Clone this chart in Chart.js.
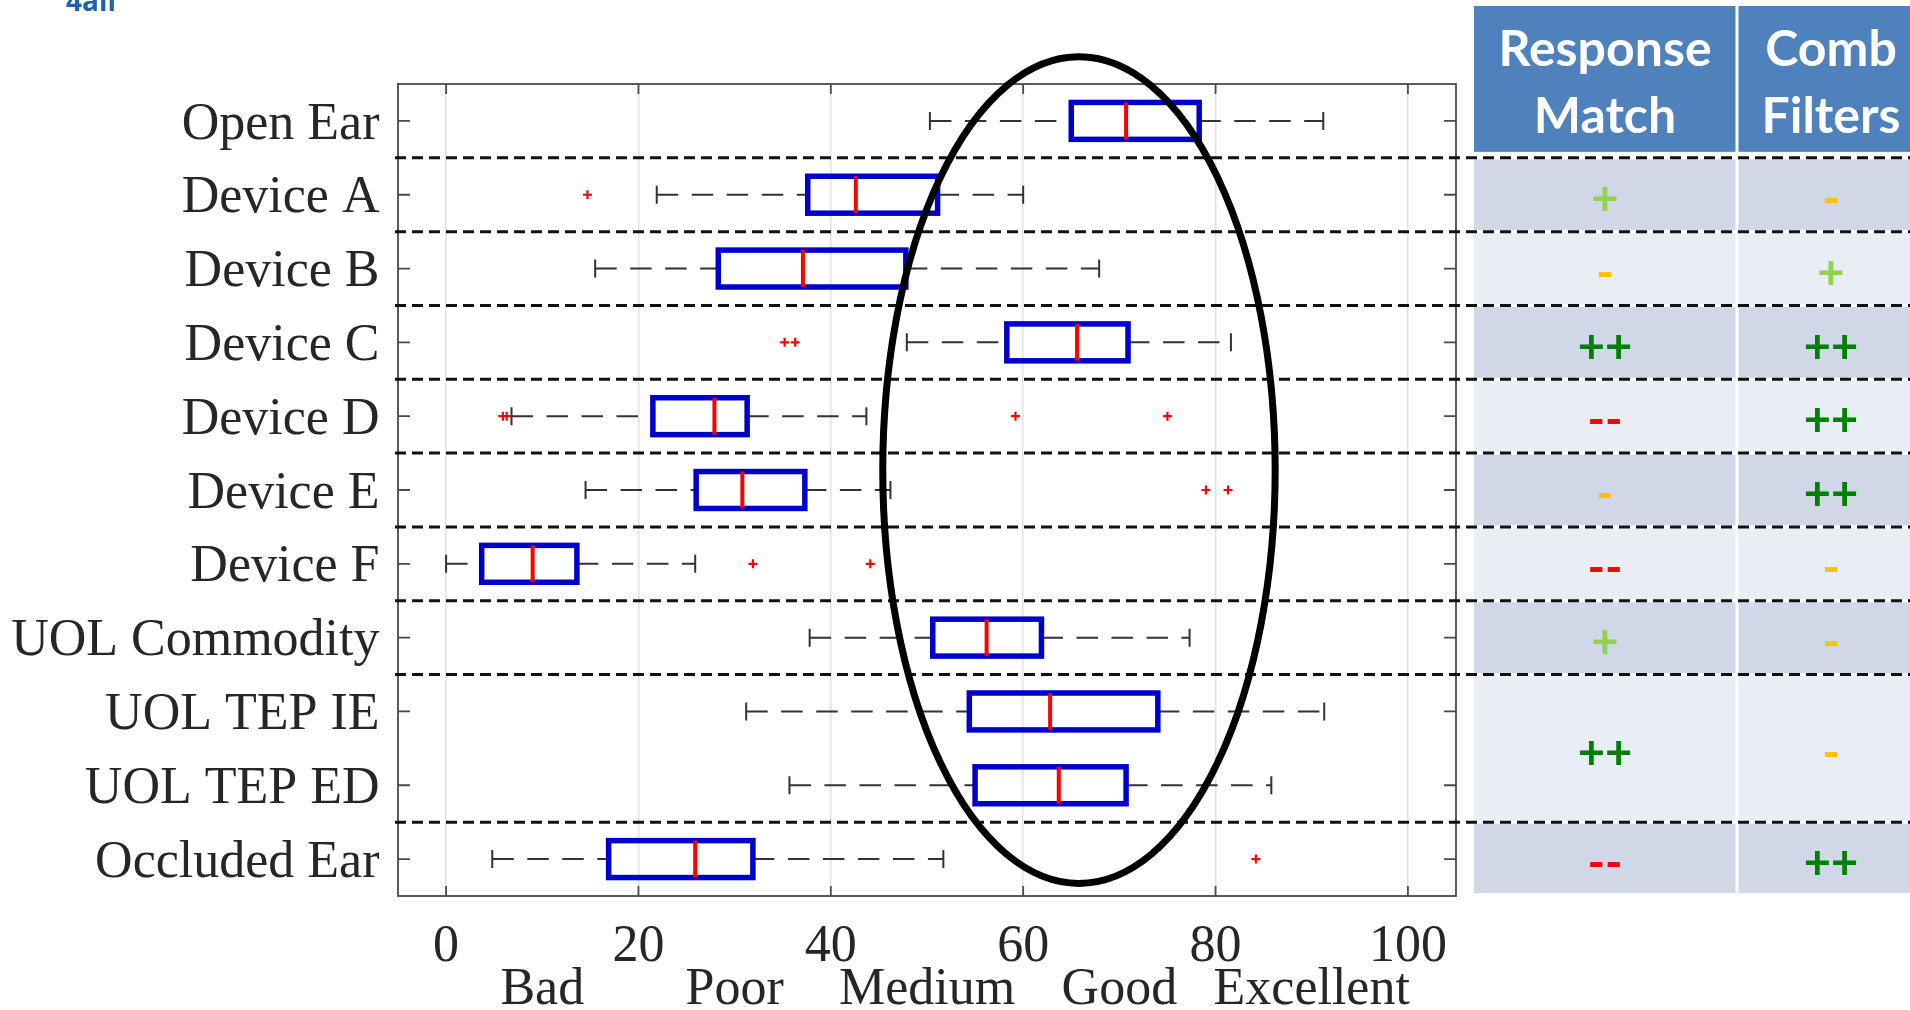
<!DOCTYPE html>
<html>
<head>
<meta charset="utf-8">
<title>Box plot ratings</title>
<script src="https://cdn.jsdelivr.net/npm/chart.js@4.4.1/dist/chart.umd.min.js"></script>
<style>
  html, body { margin: 0; padding: 0; background: #fff; }
  #wrap { position: relative; width: 1910px; height: 1010px; }
</style>
</head>
<body>
<div id="wrap"><canvas id="boxChart" width="1910" height="1010"></canvas></div>
<script>
// categories, top to bottom
const devices = ['Open Ear', 'Device A', 'Device B', 'Device C', 'Device D', 'Device E',
                 'Device F', 'UOL Commodity', 'UOL TEP IE', 'UOL TEP ED', 'Occluded Ear'];

// five number summaries
const whiskerLow  = [50.3, 21.9, 15.5, 47.9, 6.8, 14.5, 0.0, 37.8, 31.2, 35.7, 4.8];
const quart1      = [65.0, 37.6, 28.3, 58.3, 21.5, 26.0, 3.7, 50.6, 54.4, 55.0, 16.9];
const medians     = [70.7, 42.6, 37.1, 65.6, 27.9, 30.8, 9.0, 56.2, 62.8, 63.7, 25.9];
const quart3      = [78.3, 51.1, 47.8, 70.9, 31.3, 37.3, 13.6, 61.9, 74.0, 70.7, 31.9];
const whiskerHigh = [91.2, 60.0, 67.9, 81.6, 43.7, 46.2, 25.9, 77.3, 91.3, 85.8, 51.7];
const outliers = [[], [14.7], [], [35.2, 36.3], [5.9, 6.3, 59.2, 75.0], [79.0, 81.3],
                  [31.9, 44.1], [], [], [], [84.2]];

// x axis: numbers and the quality words under them
const xTicks = [0, 20, 40, 60, 80, 100];
const qualityAt = [10, 30, 50, 70, 90];
const qualityLabels = ['Bad', 'Poor', 'Medium', 'Good', 'Excellent'];

// table on the right (one entry per category, rows with the same group are merged)
const tableHeads = [['Response', 'Match'], ['Comb', 'Filters']];
const responseMatch = [null, '+', '-', '++', '--', '-', '--', '+', '++', '++', '--'];
const combFilters   = [null, '-', '+', '++', '++', '++', '-', '-', '-', '-', '++'];
const rowGroup = [0, 1, 2, 3, 4, 5, 6, 7, 8, 8, 9];

// the drawn ellipse, centre and radii in axis units (x value, category index)
const focusCenter = [65.8, 4.73];
const focusRadius = [20.4, 5.6];

const serif = "'Liberation Serif', 'Times New Roman', serif";
const symbolColor = { '+': '#92D050', '++': '#008000', '-': '#FFC000', '--': '#FF0000' };
const boxBlue = '#0000CC';

const boxExtras = {
  id: 'boxExtras',
  beforeDatasetsDraw(chart) {
    const { ctx, scales: { x, y } } = chart;
    ctx.save();
    ctx.strokeStyle = '#333';
    ctx.lineWidth = 2;
    devices.forEach((d, i) => {
      const py = y.getPixelForValue(i);
      ctx.setLineDash([21.5, 13.5]);
      ctx.beginPath();
      ctx.moveTo(x.getPixelForValue(whiskerLow[i]), py);
      ctx.lineTo(x.getPixelForValue(quart1[i]), py);
      ctx.moveTo(x.getPixelForValue(quart3[i]), py);
      ctx.lineTo(x.getPixelForValue(whiskerHigh[i]), py);
      ctx.stroke();
      ctx.setLineDash([]);
      ctx.beginPath();
      [whiskerLow[i], whiskerHigh[i]].forEach(v => {
        const px = x.getPixelForValue(v);
        ctx.moveTo(px, py - 9);
        ctx.lineTo(px, py + 9);
      });
      ctx.stroke();
    });
    ctx.restore();
  },
  // outline the IQR bars with the line centred on the quartiles, like MATLAB does
  afterDatasetDraw(chart, args) {
    if (args.meta.type !== 'bar') return;
    const ctx = chart.ctx;
    ctx.save();
    ctx.strokeStyle = boxBlue;
    ctx.lineWidth = 5.5;
    ctx.lineJoin = 'miter';
    args.meta.data.forEach(el => {
      const { x, y, base, height } = el.getProps(['x', 'y', 'base', 'height'], true);
      ctx.strokeRect(Math.min(base, x), y - height / 2, Math.abs(x - base), height);
    });
    ctx.restore();
  },
  afterDraw(chart) {
    const { ctx, chartArea: a, scales: { x, y } } = chart;
    ctx.save();

    // frame and inward ticks
    ctx.strokeStyle = '#4a4a4a';
    ctx.lineWidth = 1.8;
    ctx.strokeRect(a.left, a.top, a.right - a.left, a.bottom - a.top);
    ctx.beginPath();
    xTicks.forEach(v => {
      const px = x.getPixelForValue(v);
      ctx.moveTo(px, a.top); ctx.lineTo(px, a.top + 10);
      ctx.moveTo(px, a.bottom); ctx.lineTo(px, a.bottom - 10);
    });
    devices.forEach((d, i) => {
      const py = y.getPixelForValue(i);
      ctx.moveTo(a.left, py); ctx.lineTo(a.left + 12, py);
      ctx.moveTo(a.right, py); ctx.lineTo(a.right - 12, py);
    });
    ctx.stroke();

    // table
    const tl = a.right + 18, split = tl + 263, tr = chart.width + 20;
    const colCenters = [tl + 131, split + 94];
    const headTop = 6, headBottom = y.getPixelForValue(0.5) - 6;
    ctx.fillStyle = '#4F81BD';
    ctx.fillRect(tl, headTop, tr - tl, headBottom - headTop);
    ctx.fillStyle = '#fff';
    ctx.font = "bold 50px Lato, 'Open Sans', sans-serif";
    ctx.textAlign = 'center';
    ctx.textBaseline = 'alphabetic';
    tableHeads.forEach((lines, c) => {
      ctx.fillText(lines[0], colCenters[c], headTop + 60);
      ctx.fillText(lines[1], colCenters[c], headTop + 127);
    });

    const groups = [...new Set(rowGroup)].filter(g => g > 0);
    groups.forEach(g => {
      const first = rowGroup.indexOf(g), last = rowGroup.lastIndexOf(g);
      const top = y.getPixelForValue(first - 0.5) + 1.5;
      const bottom = last === devices.length - 1 ? a.bottom - 3 : y.getPixelForValue(last + 0.5) - 1.5;
      ctx.fillStyle = g % 2 ? '#D0D8E8' : '#E9EDF4';
      ctx.fillRect(tl, top, tr - tl, bottom - top);
      const mid = (y.getPixelForValue(first - 0.5) + y.getPixelForValue(last + 0.5)) / 2;
      ctx.font = "bold 47px Lato, 'Open Sans', sans-serif";
      ctx.textBaseline = 'middle';
      [responseMatch, combFilters].forEach((col, c) => {
        const s = col[first];
        ctx.fillStyle = symbolColor[s];
        ctx.fillText(s, colCenters[c], mid + 5);
      });
    });
    ctx.fillStyle = '#fff';
    ctx.fillRect(split - 1.5, 0, 3, a.bottom);

    // dashed row separators
    ctx.strokeStyle = '#111';
    ctx.lineWidth = 3;
    ctx.setLineDash([11, 6]);
    ctx.beginPath();
    for (let i = 1; i < devices.length; i++) {
      if (rowGroup[i] !== rowGroup[i - 1]) {
        const py = y.getPixelForValue(i - 0.5);
        ctx.moveTo(a.left - 3, py);
        ctx.lineTo(chart.width, py);
      }
    }
    ctx.stroke();
    ctx.setLineDash([]);

    // ellipse
    const cx = x.getPixelForValue(focusCenter[0]);
    const cy = y.getPixelForValue(focusCenter[1]);
    const rx = x.getPixelForValue(focusCenter[0] + focusRadius[0]) - cx;
    const ry = y.getPixelForValue(focusCenter[1] + focusRadius[1]) - cy;
    ctx.strokeStyle = '#000';
    ctx.lineWidth = 7;
    ctx.beginPath();
    ctx.ellipse(cx, cy, rx, ry, 0, 0, Math.PI * 2);
    ctx.stroke();

    // logo remnant at top left
    ctx.fillStyle = '#1D64A8';
    ctx.font = "bold 28px 'Open Sans', sans-serif";
    ctx.textAlign = 'left';
    ctx.textBaseline = 'alphabetic';
    ctx.fillText('4all', 66, 11);

    ctx.restore();
  }
};

new Chart(document.getElementById('boxChart'), {
  type: 'bar',
  data: {
    labels: devices,
    datasets: [
      {
        type: 'scatter',
        label: 'Median',
        data: medians.map((m, i) => ({ x: m, y: devices[i] })),
        pointStyle: 'line',
        rotation: 90,
        radius: 18.5,
        borderColor: '#FF0000',
        borderWidth: 4,
        order: 1
      },
      {
        type: 'scatter',
        label: 'Outliers',
        data: outliers.flatMap((arr, i) => arr.map(v => ({ x: v, y: devices[i] }))),
        pointStyle: 'cross',
        radius: 4.5,
        borderColor: '#FF0000',
        borderWidth: 2.2,
        order: 1
      },
      {
        label: 'IQR',
        data: quart1.map((q, i) => [q, quart3[i]]),
        backgroundColor: 'rgba(0,0,0,0)',
        borderColor: boxBlue,
        borderWidth: 0,
        barPercentage: 0.5,
        categoryPercentage: 1,
        order: 2
      }
    ]
  },
  options: {
    indexAxis: 'y',
    responsive: false,
    animation: false,
    events: [],
    layout: { padding: { top: 84, right: 454, left: 0, bottom: 0 } },
    plugins: { legend: { display: false }, tooltip: { enabled: false } },
    scales: {
      x: {
        type: 'linear',
        min: -5,
        max: 105,
        afterBuildTicks: axis => {
          axis.ticks = [...xTicks, ...qualityAt].sort((p, q) => p - q).map(v => ({ value: v }));
        },
        afterFit: axis => { axis.height = 114; },
        grid: {
          color: c => (c.tick && xTicks.includes(c.tick.value)) ? '#e1e1e1' : 'rgba(0,0,0,0)',
          lineWidth: 1.5,
          drawTicks: false
        },
        border: { display: false },
        ticks: {
          autoSkip: false,
          maxRotation: 0,
          minRotation: 0,
          padding: 29.5,
          color: '#262626',
          font: { family: serif, size: 52, lineHeight: 0.833 },
          callback: v => xTicks.includes(v) ? String(v) : ['', qualityLabels[qualityAt.indexOf(v)]]
        }
      },
      y: {
        type: 'category',
        afterFit: axis => { axis.width = 398; },
        grid: { display: false, drawTicks: false },
        border: { display: false },
        ticks: {
          autoSkip: false,
          padding: 18.5,
          labelOffset: 4,
          color: '#262626',
          font: { family: serif, size: 52 }
        }
      }
    }
  },
  plugins: [boxExtras]
});
</script>
</body>
</html>
